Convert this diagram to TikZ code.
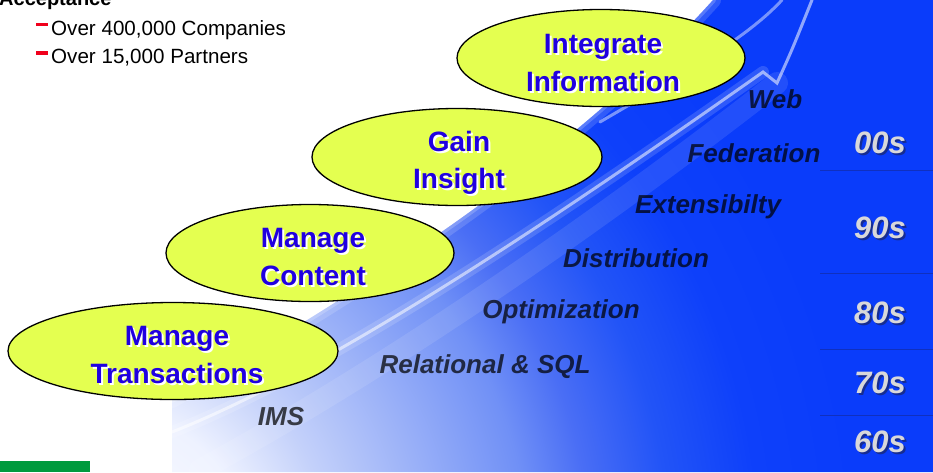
\documentclass[tikz,border=0pt]{standalone}
\usepackage{fontspec}
\setmainfont{Liberation Sans}
\usetikzlibrary{shapes.geometric}
\definecolor{bubblefill}{HTML}{E4FF50}
\definecolor{bubbleink}{HTML}{2000E0}
\definecolor{decadegray}{HTML}{D8D8DA}
\definecolor{decadedark}{HTML}{20203A}
\definecolor{dashred}{HTML}{F0001C}
\definecolor{greenbar}{HTML}{009A3E}
\definecolor{rulerblue}{HTML}{1030BE}
\definecolor{swa}{HTML}{EEF2FF}
\definecolor{swb}{HTML}{C4D1FA}
\definecolor{swc}{HTML}{7090F6}
\definecolor{swd}{HTML}{4A6EF5}
\definecolor{swe}{HTML}{2254F7}
\definecolor{swf}{HTML}{0E40FA}
\definecolor{swg}{HTML}{0A3CFA}
% radius r (px) sits at r/40 bp on a 2000pt square
\pgfdeclareradialshading{swoosh}{\pgfpoint{0bp}{0bp}}{%
  color(0bp)=(white); color(3.75bp)=(swa); color(5.75bp)=(swb);
  color(10.7bp)=(swc); color(12.25bp)=(swd); color(14.25bp)=(swe);
  color(16.5bp)=(swf); color(19bp)=(swg); color(50bp)=(swg)}

\begin{document}
\begin{tikzpicture}[x=1pt,y=-1pt,
    bubble/.style={ellipse,draw=black,fill=bubblefill,line width=1.3pt,
      minimum width=288pt,minimum height=97pt,inner sep=0pt},
    bubbletext/.style={align=center,text=bubbleink,inner sep=0pt,
      font=\fontsize{28}{37.5}\selectfont\bfseries},
    bubbleshade/.style={bubbletext,text=white},
    era/.style={anchor=base,text=black,text opacity=.72,inner sep=0pt,
      font=\fontsize{26}{30}\selectfont\bfseries\itshape},
    decade/.style={anchor=base,text=decadegray,inner sep=0pt,
      font=\fontsize{31}{36}\selectfont\bfseries\itshape},
    decadeshade/.style={decade,text=decadedark,text opacity=.55},
    listitem/.style={anchor=base west,inner sep=0pt,
      font=\fontsize{20.6}{24}\selectfont},
    dashmark/.style={dashred,line width=3.2pt},
    rule/.style={rulerblue,line width=1pt},
    glow/.style={white,line cap=round}]
  \useasboundingbox (0,0) rectangle (933,472);
  \clip (0,0) rectangle (933,472);
  \fill[white] (0,0) rectangle (933,472);

  % blue swoosh background
  \begin{scope}
    \clip (172,472) -- (172,400) .. controls (330,310) and (560,170) .. (713,0)
      -- (933,0) -- (933,472) -- cycle;
    \shade[shading=swoosh] (-900,-440) rectangle (1100,1560);
    \draw[glow,opacity=.15,line width=16pt]
      (172,400) .. controls (330,310) and (560,170) .. (713,0);
    \draw[glow,opacity=.2,line width=6pt]
      (172,400) .. controls (330,310) and (560,170) .. (713,0);
    \draw[glow,opacity=.45,line width=3pt]
      (600,122) .. controls (680,75) and (745,40) .. (782,0);
    \draw[glow,opacity=.1,line width=22pt]
      (200,470) .. controls (420,350) and (640,190) .. (777,83);
    \draw[glow,opacity=.15,line width=12pt]
      (172,432) .. controls (330,370) and (560,215) .. (763,72);
    \draw[glow,opacity=.55,line width=3pt]
      (172,432) .. controls (330,370) and (560,215) .. (763,72)
      -- (777,83) .. controls (792,50) .. (812,0);
  \end{scope}

  % decade column
  \draw[rule] (820,170) -- (933,170);
  \draw[rule] (820,273) -- (933,273);
  \draw[rule] (820,349) -- (933,349);
  \draw[rule] (820,415) -- (933,415);
  \node[decadeshade] (s00sh) at (882,155) {00s};
  \node[decade] (s00) at (880,153) {00s};
  \node[decadeshade] (s90sh) at (882,240) {90s};
  \node[decade] (s90) at (880,238) {90s};
  \node[decadeshade] (s80sh) at (882,325) {80s};
  \node[decade] (s80) at (880,323) {80s};
  \node[decadeshade] (s70sh) at (882,395) {70s};
  \node[decade] (s70) at (880,393) {70s};
  \node[decadeshade] (s60sh) at (882,454) {60s};
  \node[decade] (s60) at (880,452) {60s};

  % technologies along the curve
  \node[era] (ims) at (281,425) {IMS};
  \node[era] (rel) at (485,373) {Relational \& SQL};
  \node[era] (opt) at (561,318) {Optimization};
  \node[era] (dist) at (636,267) {Distribution};
  \node[era] (ext) at (708,213) {Extensibilty};
  \node[era] (fed) at (754,162) {Federation};
  \node[era] (web) at (775,108) {Web};

  % bubbles
  \node[bubble] (integrate) at (601,58) {};
  \node[bubbleshade] (integratesh) at (605,65) {Integrate\\Information};
  \node[bubbletext] (integratetx) at (603,63) {Integrate\\Information};
  \node[bubble,minimum width=290pt] (insight) at (457,157) {};
  \node[bubbleshade] (insightsh) at (461,165) {Gain\\Insight};
  \node[bubbletext] (insighttx) at (459,163) {Gain\\Insight};
  \node[bubble] (content) at (310,253) {};
  \node[bubbleshade] (contentsh) at (315,259) {Manage\\Content};
  \node[bubbletext] (contenttx) at (313,257) {Manage\\Content};
  \node[bubble,minimum width=330pt] (trans) at (173,351) {};
  \node[bubbleshade] (transsh) at (179,357) {Manage\\Transactions};
  \node[bubbletext] (transtx) at (177,355) {Manage\\Transactions};

  % acceptance list
  \node[listitem,font=\fontsize{20}{24}\selectfont\bfseries]
    (accept) at (-1,5) {Acceptance};
  \node[listitem] (companies) at (51,35.5) {Over 400,000 Companies};
  \node[listitem] (partners) at (51,63) {Over 15,000 Partners};
  \draw[dashmark] ([shift={(-15pt,11pt)}]companies.base west) -- ++(12,0);
  \draw[dashmark] ([shift={(-15pt,10pt)}]partners.base west) -- ++(12,0);

  \fill[greenbar] (0,461) rectangle (90,472);
\end{tikzpicture}
\end{document}
